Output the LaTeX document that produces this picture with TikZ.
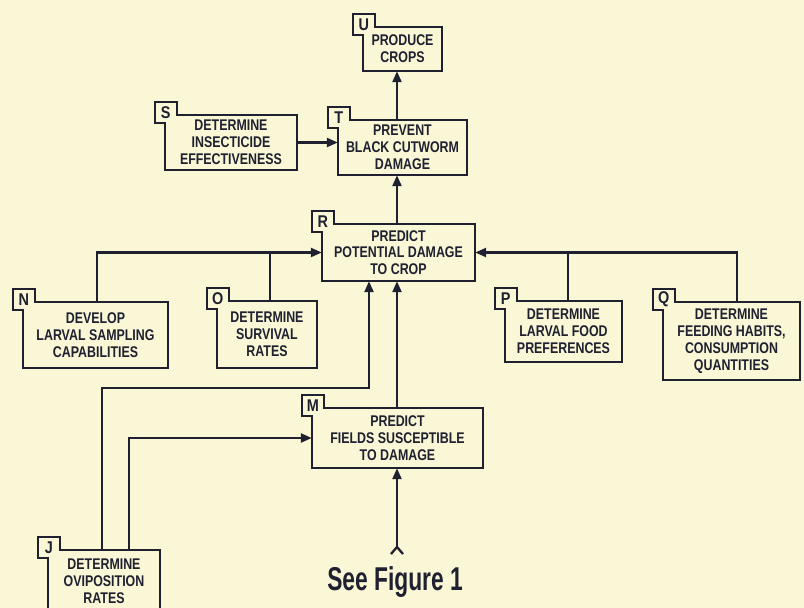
\documentclass[tikz,border=0pt]{standalone}
\usepackage{fontspec}
\usetikzlibrary{arrows.meta}
\newfontfamily\boxfont[FakeStretch=0.8]{Liberation Sans}
\newfontfamily\tabfont[FakeStretch=0.85]{Liberation Sans}
\newfontfamily\seefont[FakeStretch=0.69]{Liberation Sans}
\definecolor{bgc}{HTML}{FAF7D7}
\definecolor{ink}{HTML}{1F2030}
\newcommand\tbox[7]{%
  \pgfmathsetmacro\tbw{#5-#3}\pgfmathsetmacro\tbh{#6-#4}%
  \pgfmathsetmacro\tbx{(#3+#5)/2}\pgfmathsetmacro\tby{(#4+#6)/2}%
  \node[tbnode, minimum width=\tbw pt, minimum height=\tbh pt] (#1) at (\tbx,\tby) {#7};
  \draw[tbline] (#1.north west) ++(0,8) -- ++(-10,0) -- ++(0,-21) -- ++(22,0) -- ++(0,13)
     -- (#1.north east) -- (#1.south east) -- (#1.south west) -- cycle;
  \path (#1.north west) ++(1,-2.5) node[tbletter] (#1-lab) {#2};
}
\begin{document}
\begin{tikzpicture}[x=1pt,y=-1pt,
  tbnode/.style={draw=none, inner sep=0pt, align=center, text=ink,
     font=\boxfont\bfseries\fontsize{15.5}{16.8}\selectfont},
  tbline/.style={draw=ink, line width=2.3pt, line join=miter},
  tbletter/.style={inner sep=0pt, text=ink, font=\tabfont\bfseries\fontsize{17}{17}\selectfont},
  conn/.style={draw=ink, line width=2.3pt},
  arr/.style={conn, -{Triangle[length=11pt,width=9pt]}}]
\fill[bgc] (0,0) rectangle (804,608);
\useasboundingbox (0,0) rectangle (804,608);

\tbox{U}{U}{363}{27}{442}{71}{PRODUCE\\CROPS}
\tbox{T}{T}{338}{120}{467}{175}{PREVENT\\BLACK CUTWORM\\DAMAGE}
\tbox{S}{S}{165}{115}{297}{170}{DETERMINE\\INSECTICIDE\\EFFECTIVENESS}
\tbox{R}{R}{322}{224}{475}{281}{PREDICT\\POTENTIAL DAMAGE\\TO CROP}
\tbox{N}{N}{23}{302}{168}{368}{DEVELOP\\LARVAL SAMPLING\\CAPABILITIES}
\tbox{O}{O}{217}{301}{317}{368}{DETERMINE\\SURVIVAL\\RATES}
\tbox{P}{P}{505}{301}{622}{362}{DETERMINE\\LARVAL FOOD\\PREFERENCES}
\tbox{Q}{Q}{663}{302}{800}{380}{DETERMINE\\FEEDING HABITS,\\CONSUMPTION\\QUANTITIES}
\tbox{M}{M}{312}{408}{483}{468}{PREDICT\\FIELDS SUSCEPTIBLE\\TO DAMAGE}
\tbox{J}{J}{48}{550}{160}{612}{DETERMINE\\OVIPOSITION\\RATES}

\coordinate (colx) at (397,0);
\coordinate (jr) at (369,388);
\coordinate (fk) at (397,547);

\draw[arr] (T.north -| colx) -- (U.south -| colx);
\draw[arr] (R.north -| colx) -- (T.south -| colx);
\draw[arr] (S.east) -- (S.east -| T.west);
\draw[arr] ([xshift=1.5pt]N.north) |- (R.west);
\draw[conn] ([xshift=3pt]O.north) -- ([xshift=3pt]O.north |- R.west);
\draw[conn] ([xshift=4.5pt]P.north) -- ([xshift=4.5pt]P.north |- R.east);
\draw[arr] ([xshift=5.5pt]Q.north) |- (R.east);
\draw[arr] (M.north -| colx) -- (R.south -| colx);
\draw[arr] ([xshift=-2pt]J.north) |- (jr) -- (jr |- R.south);
\draw[arr] ([xshift=25pt]J.north) |- (M.west);
\draw[arr] (fk) -- (M.south -| colx);
\draw[conn] ([xshift=-6pt,yshift=-7pt]fk) -- (fk) -- ([xshift=6pt,yshift=-7pt]fk);

\node[text=ink, inner sep=0pt, font=\seefont\bfseries\fontsize{33}{33}\selectfont] (see) at (395,582) {See Figure 1};
\end{tikzpicture}
\end{document}
